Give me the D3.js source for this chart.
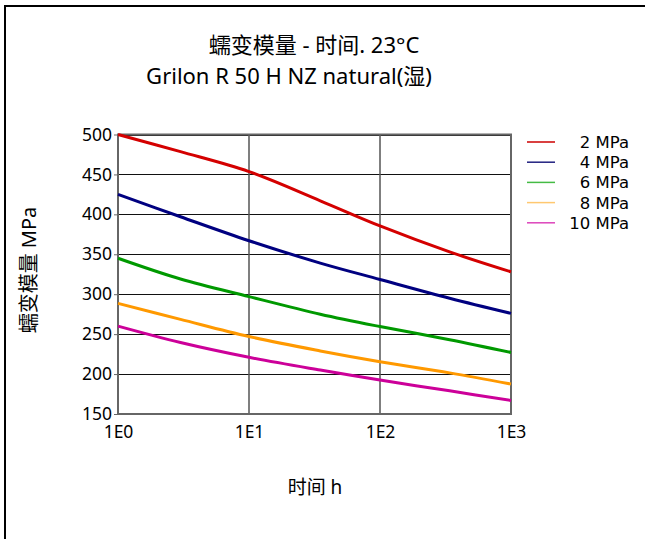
<!DOCTYPE html>
<html>
<head>
<meta charset="utf-8">
<script src="https://cdn.jsdelivr.net/npm/d3@7"></script>
<style>
  body { margin: 0; background: #fff; }
  text { font-family: "Noto Sans", "Noto Sans CJK SC", sans-serif; fill: #000; }
</style>
</head>
<body>
<script>
const w = 645;
const h = 539;

// data
const times = [1, 3, 10, 35, 100, 340, 1000];
const series = ['2 MPa', '4 MPa', '6 MPa', '8 MPa', '10 MPa'];
const mpa2 = [500, 478.5, 453.5, 417, 385.5, 353, 328];
const mpa4 = [425, 397, 367, 339, 318.5, 295, 276];
const mpa6 = [345, 319, 297, 275, 259.5, 243, 227];
const mpa8 = [288.5, 268.5, 247, 229, 215.5, 201.5, 187.5];
const mpa10 = [260, 239.5, 221, 205, 192.5, 179, 167];
const values = [mpa2, mpa4, mpa6, mpa8, mpa10];
const xTicks = [1, 10, 100, 1000];
const xTickLabels = ['1E0', '1E1', '1E2', '1E3'];
const yTicks = [150, 200, 250, 300, 350, 400, 450, 500];

const lineColors = ['#d40000', '#000080', '#009900', '#ff9900', '#cc0099'];
const legendColors = ['#cc0000', '#202080', '#44bb44', '#ffc870', '#dd44bb'];

const svg = d3.select('body')
   .append('svg')
   .attr('width', w)
   .attr('height', h);

// outer frame (runs off right and bottom)
svg.append('rect')
   .attr('x', 5).attr('y', 6)
   .attr('width', 700).attr('height', 600)
   .attr('fill', 'none')
   .attr('stroke', '#000')
   .attr('stroke-width', 2);

const xScale = d3.scaleLog()
   .domain([1, 1000])
   .range([118, 511]);

const yScale = d3.scaleLinear()
   .domain([150, 500])
   .range([414, 134.5]);

// horizontal grid
svg.append('g')
   .selectAll('line')
   .data(yTicks)
   .enter()
   .append('line')
   .attr('x1', 118).attr('x2', 511)
   .attr('y1', (d) => Math.round(yScale(d)) + 0.5)
   .attr('y2', (d) => Math.round(yScale(d)) + 0.5)
   .attr('stroke', '#111')
   .attr('stroke-width', 1);

// vertical grid
svg.append('g')
   .selectAll('line')
   .data(xTicks)
   .enter()
   .append('line')
   .attr('x1', (d) => xScale(d)).attr('x2', (d) => xScale(d))
   .attr('y1', yScale(500)).attr('y2', yScale(150))
   .attr('stroke', '#555')
   .attr('stroke-width', 1.5);

// plot frame
svg.append('rect')
   .attr('x', 118).attr('y', yScale(500))
   .attr('width', 511 - 118).attr('height', yScale(150) - yScale(500))
   .attr('fill', 'none')
   .attr('stroke', '#666')
   .attr('stroke-width', 2);

const line = d3.line()
   .x((d, i) => xScale(times[i]))
   .y((d) => yScale(d))
   .curve(d3.curveCatmullRom.alpha(0.5));

svg.append('g')
   .selectAll('path')
   .data(values)
   .enter()
   .append('path')
   .attr('d', (d) => line(d))
   .attr('fill', 'none')
   .attr('stroke', (d, i) => lineColors[i])
   .attr('stroke-width', 3);

// y axis labels
const yAxis = d3.axisLeft(yScale)
   .tickValues(yTicks)
   .tickSize(4)
   .tickPadding(2);

const gy = svg.append('g')
   .attr('transform', 'translate(118, 0)')
   .call(yAxis);
gy.select('.domain').remove();
gy.selectAll('line').attr('stroke', '#666');
gy.selectAll('text').attr('font-size', 17.5).style('font-family', '"Noto Sans", sans-serif');

// x axis labels
const xAxis = d3.axisBottom(xScale)
   .tickValues(xTicks)
   .tickFormat((d, i) => xTickLabels[i])
   .tickSize(0)
   .tickPadding(12);

const gx = svg.append('g')
   .attr('transform', 'translate(0, ' + yScale(150) + ')')
   .call(xAxis);
gx.select('.domain').remove();
gx.selectAll('text').attr('font-size', 17.5).style('font-family', '"Noto Sans", sans-serif');

// titles
svg.append('text')
   .attr('x', 314).attr('y', 53)
   .attr('text-anchor', 'middle')
   .attr('font-size', 22)
   .text('蠕变模量 - 时间. 23°C');

svg.append('text')
   .attr('x', 289).attr('y', 84)
   .attr('text-anchor', 'middle')
   .attr('font-size', 22)
   .text('Grilon R 50 H NZ natural(湿)');

svg.append('text')
   .attr('x', 315).attr('y', 494)
   .attr('text-anchor', 'middle')
   .attr('font-size', 19)
   .text('时间 h');

svg.append('text')
   .attr('transform', 'translate(36, 270) rotate(-90)')
   .attr('text-anchor', 'middle')
   .attr('font-size', 20)
   .text('蠕变模量 MPa');

// legend
const legend = svg.append('g')
   .selectAll('g')
   .data(series)
   .enter()
   .append('g')
   .attr('transform', (d, i) => 'translate(0, ' + (142 + i * 20.2) + ')');

legend.append('line')
   .attr('x1', 527).attr('x2', 555)
   .attr('y1', 0).attr('y2', 0)
   .attr('stroke', (d, i) => legendColors[i])
   .attr('stroke-width', 1.5);

legend.append('text')
   .attr('x', 629).attr('y', 6)
   .attr('text-anchor', 'end')
   .attr('font-size', 16.5)
   .style('font-family', '"DejaVu Sans", sans-serif')
   .text((d) => d);
</script>
</body>
</html>
